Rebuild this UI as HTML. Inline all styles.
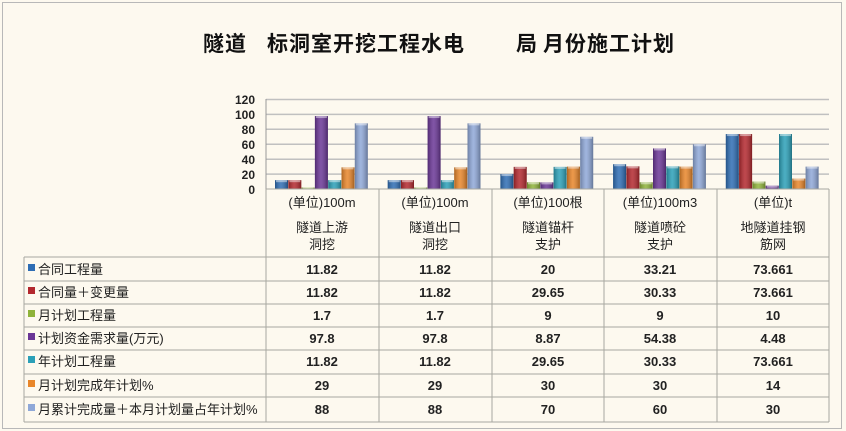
<!DOCTYPE html>
<html><head><meta charset="utf-8"><style>
body{margin:0;background:#fdf9ef;}
svg{display:block;font-family:"Liberation Sans","Noto Sans CJK SC",sans-serif;}
</style></head><body>
<svg id="s" width="846" height="431" xmlns="http://www.w3.org/2000/svg">
<defs>
<linearGradient id="sh" x1="0" x2="1" y1="0" y2="0"><stop offset="0" stop-color="#000" stop-opacity="0.25"/><stop offset="0.45" stop-color="#fff" stop-opacity="0.15"/><stop offset="1" stop-color="#000" stop-opacity="0.3"/></linearGradient>
</defs>
<rect x="0" y="0" width="846" height="431" fill="#fdf9ef"/>
<rect x="2.5" y="2.5" width="839" height="426" fill="none" stroke="#b8b8b8"/>
<g font-size="21" font-weight="bold" fill="#111" font-family="'Noto Sans CJK SC',sans-serif">
<text x="203" y="51" letter-spacing="1">隧道</text>
<text x="267" y="51" letter-spacing="1">标洞室开挖工程水电</text>
<text x="516" y="51">局</text>
<text x="543" y="51" letter-spacing="1">月份施工计划</text>
</g>
<g stroke="#c0c0c0" stroke-width="1.5" id="grid">
<line x1="266" y1="99.5" x2="829" y2="99.5"/>
<line x1="266" y1="114.4" x2="829" y2="114.4"/>
<line x1="266" y1="129.3" x2="829" y2="129.3"/>
<line x1="266" y1="144.3" x2="829" y2="144.3"/>
<line x1="266" y1="159.2" x2="829" y2="159.2"/>
<line x1="266" y1="174.1" x2="829" y2="174.1"/>
</g>
<line x1="266" y1="99" x2="266" y2="189" stroke="#999"/>
<g font-size="12" font-weight="bold" fill="#222" text-anchor="end">
<text x="255" y="104">120</text><text x="255" y="119">100</text><text x="255" y="134">80</text><text x="255" y="149">60</text><text x="255" y="164">40</text><text x="255" y="179">20</text><text x="255" y="194">0</text>
</g>
<g id="bars"></g>
<g stroke="#a8a8a0" fill="none">
<line x1="266" y1="189" x2="829" y2="189"/>
<line x1="266" y1="189" x2="266" y2="422"/>
<line x1="379" y1="189" x2="379" y2="422"/>
<line x1="492" y1="189" x2="492" y2="422"/>
<line x1="604" y1="189" x2="604" y2="422"/>
<line x1="717" y1="189" x2="717" y2="422"/>
<line x1="829" y1="189" x2="829" y2="422"/>
<line x1="24" y1="257" x2="829" y2="257"/>
<line x1="24" y1="281" x2="829" y2="281"/>
<line x1="24" y1="304" x2="829" y2="304"/>
<line x1="24" y1="327" x2="829" y2="327"/>
<line x1="24" y1="350" x2="829" y2="350"/>
<line x1="24" y1="374" x2="829" y2="374"/>
<line x1="24" y1="397" x2="829" y2="397"/>
<line x1="24" y1="422" x2="829" y2="422"/>
<line x1="24" y1="257" x2="24" y2="422"/>
</g>
<g font-size="13" fill="#222" text-anchor="middle">
<text x="322" y="207">(单位)100m</text><text x="322" y="232">隧道上游</text><text x="322" y="249">洞挖</text>
<text x="435" y="207">(单位)100m</text><text x="435" y="232">隧道出口</text><text x="435" y="249">洞挖</text>
<text x="548" y="207">(单位)100根</text><text x="548" y="232">隧道锚杆</text><text x="548" y="249">支护</text>
<text x="660" y="207">(单位)100m3</text><text x="660" y="232">隧道喷砼</text><text x="660" y="249">支护</text>
<text x="773" y="207">(单位)t</text><text x="773" y="232">地隧道挂钢</text><text x="773" y="249">筋网</text>
</g>
<g font-size="13" fill="#222">
<text x="38" y="274">合同工程量</text>
<text x="38" y="297">合同量＋变更量</text>
<text x="38" y="320">月计划工程量</text>
<text x="38" y="343">计划资金需求量(万元)</text>
<text x="38" y="366">年计划工程量</text>
<text x="38" y="390">月计划完成年计划%</text>
<text x="38" y="414">月累计完成量＋本月计划量占年计划%</text>
</g>
<g id="leg"></g>
<g font-size="13" font-weight="bold" fill="#222" text-anchor="middle">
<text x="322" y="274">11.82</text><text x="435" y="274">11.82</text><text x="548" y="274">20</text><text x="660" y="274">33.21</text><text x="773" y="274">73.661</text>
<text x="322" y="297">11.82</text><text x="435" y="297">11.82</text><text x="548" y="297">29.65</text><text x="660" y="297">30.33</text><text x="773" y="297">73.661</text>
<text x="322" y="320">1.7</text><text x="435" y="320">1.7</text><text x="548" y="320">9</text><text x="660" y="320">9</text><text x="773" y="320">10</text>
<text x="322" y="343">97.8</text><text x="435" y="343">97.8</text><text x="548" y="343">8.87</text><text x="660" y="343">54.38</text><text x="773" y="343">4.48</text>
<text x="322" y="366">11.82</text><text x="435" y="366">11.82</text><text x="548" y="366">29.65</text><text x="660" y="366">30.33</text><text x="773" y="366">73.661</text>
<text x="322" y="390">29</text><text x="435" y="390">29</text><text x="548" y="390">30</text><text x="660" y="390">30</text><text x="773" y="390">14</text>
<text x="322" y="414">88</text><text x="435" y="414">88</text><text x="548" y="414">70</text><text x="660" y="414">60</text><text x="773" y="414">30</text>
</g>
</svg>
<script>
var NS="http://www.w3.org/2000/svg";
var cols=["#2e6db4","#b3282e","#8fb33a","#6a3696","#2ba0b8","#e8862a","#8fa8d8"];
var data=[[11.82,11.82,1.7,97.8,11.82,29,88],[11.82,11.82,1.7,97.8,11.82,29,88],[20,29.65,9,8.87,29.65,30,70],[33.21,30.33,9,54.38,30.33,30,60],[73.661,73.661,10,4.48,73.661,14,30]];
var g=document.getElementById("bars");
function r(p,x,y,w,h,f){var e=document.createElementNS(NS,"rect");e.setAttribute("x",x);e.setAttribute("y",y);e.setAttribute("width",w);e.setAttribute("height",h);e.setAttribute("fill",f);p.appendChild(e);return e;}
for(var i=0;i<5;i++){var L=266+112.7*i;for(var j=0;j<7;j++){var v=data[i][j];var h=v*89.5/120;if(h<1.5)h=1.5;var x=L+9+j*13.3;r(g,x,189-h,13,h,cols[j]);r(g,x,189-h,13,h,"url(#sh)");r(g,x+1,189-h,11,2,"rgba(255,255,255,0.45)");}}
var lg=document.getElementById("leg");
for(var k=0;k<7;k++){var yy=[264,287,310,333,356,380,404][k];r(lg,28,yy,7,7,cols[k]);}
</script>
</body></html>
